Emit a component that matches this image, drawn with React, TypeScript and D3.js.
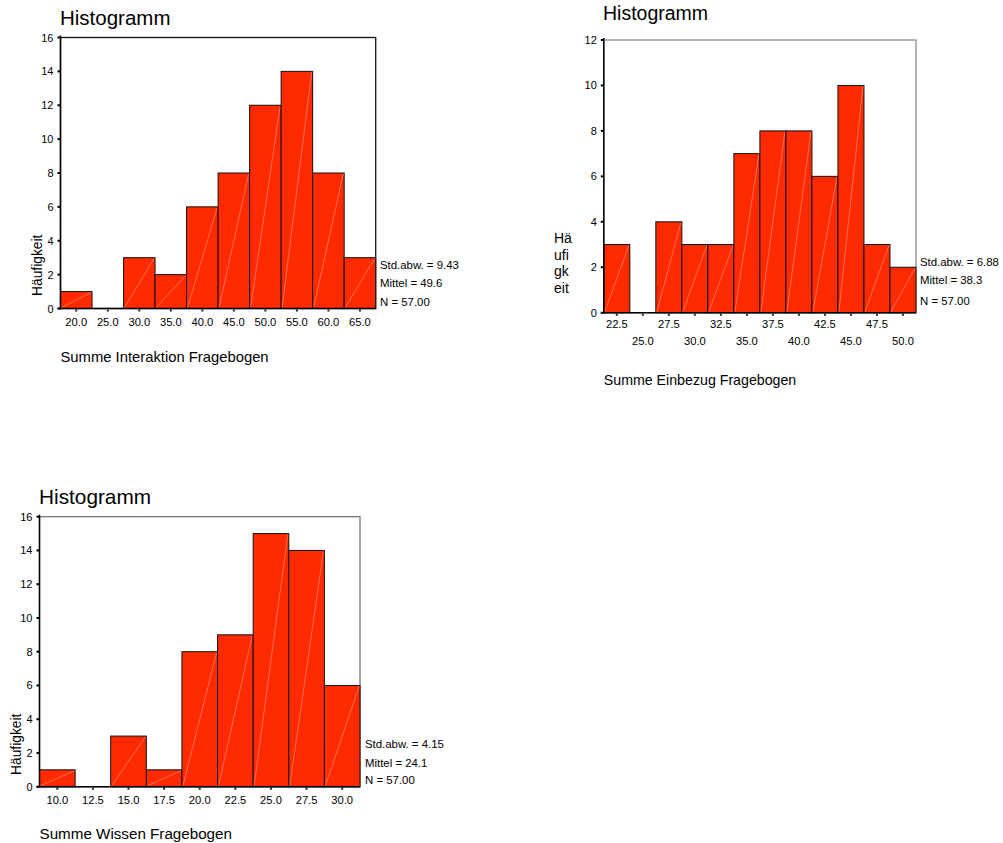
import React from "react";
import * as d3 from "d3";

const FONT = "'Liberation Sans', Arial, Helvetica, sans-serif";

// ---------- data ----------
const chart1Bins = [20, 25, 30, 35, 40, 45, 50, 55, 60, 65];
const chart1Counts = [1, 0, 3, 2, 6, 8, 12, 14, 8, 3];
const chart1Stats = ["Std.abw. = 9.43", "Mittel = 49.6", "N = 57.00"];
const chart1Title = "Histogramm";
const chart1XTitle = "Summe Interaktion Fragebogen";
const chart1YTicks = [0, 2, 4, 6, 8, 10, 12, 14, 16];

const chart2Bins = [22.5, 25, 27.5, 30, 32.5, 35, 37.5, 40, 42.5, 45, 47.5, 50];
const chart2Counts = [3, 0, 4, 3, 3, 7, 8, 8, 6, 10, 3, 2];
const chart2Stats = ["Std.abw. = 6.88", "Mittel = 38.3", "N = 57.00"];
const chart2Title = "Histogramm";
const chart2XTitle = "Summe Einbezug Fragebogen";
const chart2YTicks = [0, 2, 4, 6, 8, 10, 12];
const chart2YLabelLines = ["Hä", "ufi", "gk", "eit"];

const chart3Bins = [10, 12.5, 15, 17.5, 20, 22.5, 25, 27.5, 30];
const chart3Counts = [1, 0, 3, 1, 8, 9, 15, 14, 6];
const chart3Stats = ["Std.abw. = 4.15", "Mittel = 24.1", "N = 57.00"];
const chart3Title = "Histogramm";
const chart3XTitle = "Summe Wissen Fragebogen";
const chart3YTicks = [0, 2, 4, 6, 8, 10, 12, 14, 16];

const yLabelText = "Häufigkeit";

// ---------- layout ----------
type Layout = {
  left: number;
  right: number;
  top: number;
  bottom: number;
  frameColor: string;
  titleX: number;
  titleY: number;
  titleSize: number;
  xTitleY: number;
  xTitleSize: number;
  statsX: number;
  statsY: number[];
  labelDy: number;
  labelDy2?: number;
  yLabel: "rotated" | "stacked";
  yLabelX: number;
  yLabelY: number;
};

const fmt = d3.format(".1f");
const RED = "#ff2a00";

function Histogram(props: {
  bins: number[];
  counts: number[];
  stats: string[];
  title: string;
  xTitle: string;
  yTicks: number[];
  L: Layout;
}) {
  const { bins, counts, stats, title, xTitle, yTicks, L } = props;
  const bw = bins[1] - bins[0];
  const x = d3
    .scaleLinear()
    .domain([bins[0] - bw / 2, bins[bins.length - 1] + bw / 2])
    .range([L.left, L.right]);
  const yMax = yTicks[yTicks.length - 1];
  const y = d3.scaleLinear().domain([0, yMax]).range([L.bottom, L.top]);
  const twoRows = L.labelDy2 !== undefined;

  return (
    <g fontFamily={FONT}>
      <text x={L.titleX} y={L.titleY} fontSize={L.titleSize} fill="#000">
        {title}
      </text>
      {/* frame */}
      <rect
        x={L.left}
        y={L.top}
        width={L.right - L.left}
        height={L.bottom - L.top}
        fill="none"
        stroke={L.frameColor}
        strokeWidth={1.3}
      />
      {/* bars */}
      {bins.map((b, i) => {
        const c = counts[i];
        if (c <= 0) return null;
        const x0 = x(b - bw / 2);
        const x1 = x(b + bw / 2);
        const yt = y(c);
        const yb = y(0);
        return (
          <g key={i}>
            <rect
              x={x0}
              y={yt}
              width={x1 - x0}
              height={yb - yt}
              fill={RED}
              stroke="#111"
              strokeWidth={1}
            />
            <line
              x1={x0 + 1}
              y1={yb - 1}
              x2={x1 - 1}
              y2={yt + 1}
              stroke="#ffb49c"
              strokeWidth={0.6}
              strokeOpacity={0.85}
            />
          </g>
        );
      })}
      {/* axes */}
      <line x1={L.left} y1={L.top - 2} x2={L.left} y2={L.bottom + 1} stroke="#000" strokeWidth={1.5} />
      <line x1={L.left - 3} y1={L.bottom} x2={L.right} y2={L.bottom} stroke="#000" strokeWidth={1.5} />
      {yTicks.map((t) => (
        <g key={t}>
          <line x1={L.left - 3} y1={y(t)} x2={L.left} y2={y(t)} stroke="#000" strokeWidth={2} />
          <text x={L.left - 7} y={y(t) + 4} fontSize={11} textAnchor="end" fill="#000">
            {t}
          </text>
        </g>
      ))}
      {bins.map((b, i) => (
        <g key={i}>
          <line x1={x(b)} y1={L.bottom + 1} x2={x(b)} y2={L.bottom + 3} stroke="#222" strokeWidth={2} />
          <text
            x={x(b)}
            y={L.bottom + (twoRows && i % 2 === 1 ? (L.labelDy2 as number) : L.labelDy)}
            fontSize={11.2}
            textAnchor="middle"
            fill="#000"
          >
            {fmt(b)}
          </text>
        </g>
      ))}
      {/* stats */}
      {stats.map((s, i) => (
        <text key={i} x={L.statsX} y={L.statsY[i]} fontSize={11.4} fill="#000">
          {s}
        </text>
      ))}
      {/* y label */}
      {L.yLabel === "rotated" ? (
        <text
          transform={`translate(${L.yLabelX},${L.yLabelY}) rotate(-90)`}
          fontSize={13.8}
          fill="#000"
        >
          {yLabelText}
        </text>
      ) : (
        chart2YLabelLines.map((s, i) => (
          <text key={i} x={L.yLabelX} y={L.yLabelY + i * 16.7} fontSize={14} fill="#000">
            {s}
          </text>
        ))
      )}
      <text x={L.left} y={L.xTitleY} fontSize={L.xTitleSize} fill="#000">
        {xTitle}
      </text>
    </g>
  );
}

const layout1: Layout = {
  left: 60.5,
  right: 375.7,
  top: 37.5,
  bottom: 308.5,
  frameColor: "#111",
  titleX: 60,
  titleY: 25,
  titleSize: 20.5,
  xTitleY: 362,
  xTitleSize: 14.8,
  statsX: 380,
  statsY: [269, 287.3, 306],
  labelDy: 17.5,
  yLabel: "rotated",
  yLabelX: 42,
  yLabelY: 296,
};

const layout2: Layout = {
  left: 603.8,
  right: 916,
  top: 40,
  bottom: 312.7,
  frameColor: "#8a8a8a",
  titleX: 603,
  titleY: 20,
  titleSize: 19.5,
  xTitleY: 385,
  xTitleSize: 14.2,
  statsX: 920,
  statsY: [265.7, 284.3, 305.3],
  labelDy: 15,
  labelDy2: 32.3,
  yLabel: "stacked",
  yLabelX: 554,
  yLabelY: 243,
};

const layout3: Layout = {
  left: 39.5,
  right: 360,
  top: 516.7,
  bottom: 786.7,
  frameColor: "#777",
  titleX: 39,
  titleY: 504,
  titleSize: 20.8,
  xTitleY: 839,
  xTitleSize: 15.2,
  statsX: 365,
  statsY: [748.3, 766.7, 784.3],
  labelDy: 17.5,
  yLabel: "rotated",
  yLabelX: 21,
  yLabelY: 775,
};

export default function App() {
  return (
    <svg
      width={1003}
      height={843}
      style={{ position: "absolute", left: 0, top: 0, background: "#fff" }}
    >
      <rect x={0} y={0} width={1003} height={843} fill="#fff" />
      <Histogram
        bins={chart1Bins}
        counts={chart1Counts}
        stats={chart1Stats}
        title={chart1Title}
        xTitle={chart1XTitle}
        yTicks={chart1YTicks}
        L={layout1}
      />
      <Histogram
        bins={chart2Bins}
        counts={chart2Counts}
        stats={chart2Stats}
        title={chart2Title}
        xTitle={chart2XTitle}
        yTicks={chart2YTicks}
        L={layout2}
      />
      <Histogram
        bins={chart3Bins}
        counts={chart3Counts}
        stats={chart3Stats}
        title={chart3Title}
        xTitle={chart3XTitle}
        yTicks={chart3YTicks}
        L={layout3}
      />
    </svg>
  );
}
